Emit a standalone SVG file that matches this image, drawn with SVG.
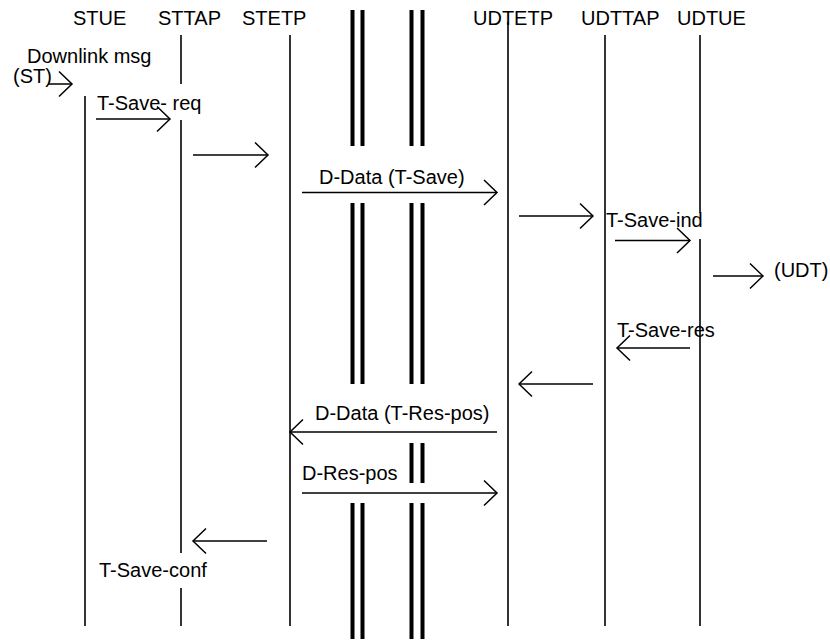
<svg xmlns="http://www.w3.org/2000/svg" width="830" height="642" viewBox="0 0 830 642">
  <defs>
    <style>
      text { font-family: "Liberation Sans", Arial, sans-serif; font-size: 20px; fill: #000; }
      .life { stroke: #000; stroke-width: 1.6; fill: none; }
      .msg { stroke: #000; stroke-width: 1.5; fill: none; marker-end: url(#open); }
      .brk { stroke: #000; stroke-width: 4; fill: none; }
    </style>
    <marker id="open" markerUnits="userSpaceOnUse" orient="auto" refX="0" refY="0" markerWidth="30" markerHeight="30" style="overflow:visible">
      <path d="M -13 -12.5 L 0 0 L -13 12.5" fill="none" stroke="#000" stroke-width="1.5"/>
    </marker>
  </defs>
  <rect width="830" height="642" fill="#fff"/>

  <!-- lifelines -->
  <g id="stue">
    <text x="73" y="25">STUE</text>
    <line class="life" x1="85" y1="96" x2="85" y2="626"/>
  </g>
  <g id="sttap">
    <text x="158" y="25">STTAP</text>
    <line class="life" x1="181" y1="35" x2="181" y2="84"/>
    <line class="life" x1="181" y1="120" x2="181" y2="553"/>
    <line class="life" x1="181" y1="588" x2="181" y2="626"/>
  </g>
  <g id="stetp">
    <text x="242" y="25">STETP</text>
    <line class="life" x1="290" y1="35" x2="290" y2="626"/>
  </g>
  <g id="udtetp">
    <text x="473" y="25">UDTETP</text>
    <line class="life" x1="508" y1="22" x2="508" y2="626"/>
  </g>
  <g id="udttap">
    <text x="581" y="25">UDTTAP</text>
    <line class="life" x1="605" y1="35" x2="605" y2="626"/>
  </g>
  <g id="udtue">
    <text x="677" y="25">UDTUE</text>
    <line class="life" x1="700" y1="35" x2="700" y2="213"/>
    <line class="life" x1="700" y1="239" x2="700" y2="626"/>
  </g>

  <!-- network break marks -->
  <g id="breaks">
    <line class="brk" x1="352.5" y1="10" x2="352.5" y2="146"/>
    <line class="brk" x1="362.5" y1="10" x2="362.5" y2="146"/>
    <line class="brk" x1="411.5" y1="10" x2="411.5" y2="146"/>
    <line class="brk" x1="422.5" y1="10" x2="422.5" y2="146"/>
    <line class="brk" x1="352.5" y1="203" x2="352.5" y2="384"/>
    <line class="brk" x1="362.5" y1="203" x2="362.5" y2="384"/>
    <line class="brk" x1="411.5" y1="203" x2="411.5" y2="384"/>
    <line class="brk" x1="422.5" y1="203" x2="422.5" y2="384"/>
    <line class="brk" x1="411.5" y1="443" x2="411.5" y2="483"/>
    <line class="brk" x1="422.5" y1="443" x2="422.5" y2="483"/>
    <line class="brk" x1="352.5" y1="503" x2="352.5" y2="639"/>
    <line class="brk" x1="362.5" y1="503" x2="362.5" y2="639"/>
    <line class="brk" x1="411.5" y1="503" x2="411.5" y2="639"/>
    <line class="brk" x1="422.5" y1="503" x2="422.5" y2="639"/>
  </g>

  <!-- messages -->
  <g id="connectors">
    <line class="msg" x1="48" y1="84" x2="72" y2="84"/>
    <line class="msg" x1="96" y1="119" x2="170" y2="119"/>
    <line class="msg" x1="193" y1="155" x2="268" y2="155"/>
    <line class="msg" x1="302" y1="192.5" x2="497" y2="192.5"/>
    <line class="msg" x1="519" y1="216" x2="593" y2="216"/>
    <line class="msg" x1="615" y1="240.5" x2="690" y2="240.5"/>
    <line class="msg" x1="713" y1="276" x2="763" y2="276"/>
    <line class="msg" x1="690" y1="348" x2="617" y2="348"/>
    <line class="msg" x1="593" y1="384" x2="519" y2="384"/>
    <line class="msg" x1="497" y1="432" x2="290" y2="432"/>
    <line class="msg" x1="302" y1="493" x2="497" y2="493"/>
    <line class="msg" x1="267" y1="541" x2="193" y2="541"/>
  </g>

  <!-- message labels -->
  <g id="labels">
    <text x="27" y="63">Downlink msg</text>
    <text x="13" y="83">(ST)</text>
    <text x="97" y="110">T-Save- req</text>
    <text x="319" y="184">D-Data (T-Save)</text>
    <text x="606" y="227">T-Save-ind</text>
    <text x="774" y="277">(UDT)</text>
    <text x="617" y="337">T-Save-res</text>
    <text x="315" y="420">D-Data (T-Res-pos)</text>
    <text x="302" y="480">D-Res-pos</text>
    <text x="99" y="577">T-Save-conf</text>
  </g>
</svg>
